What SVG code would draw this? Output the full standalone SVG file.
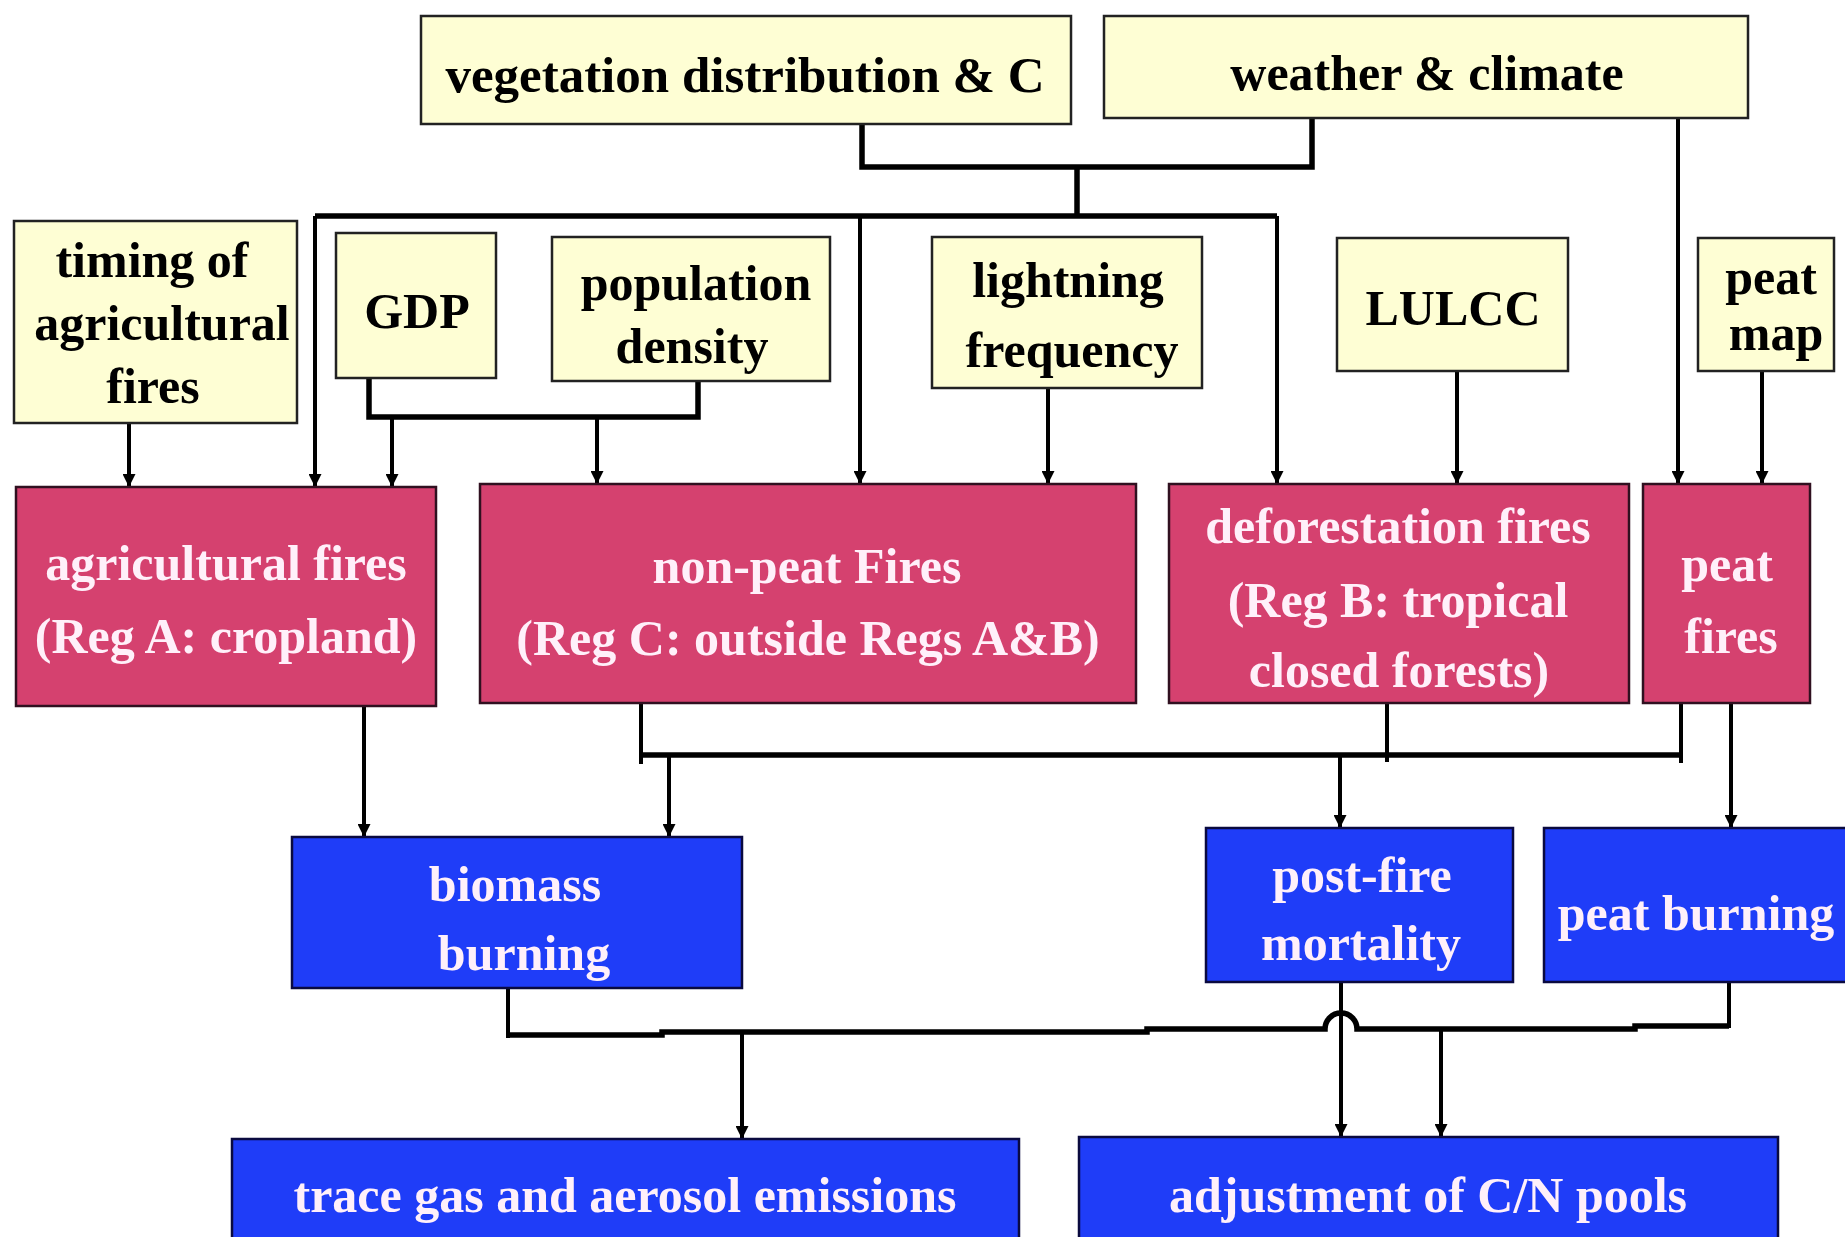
<svg xmlns="http://www.w3.org/2000/svg" width="1845" height="1237" viewBox="0 0 1845 1237">
<style>
.in{fill:#FEFED4;stroke:#222;stroke-width:2.5}
.fire{fill:#D5416F;stroke:#301020;stroke-width:2.5}
.out{fill:#1F3DF8;stroke:#0A0A40;stroke-width:2.5}
text{font-family:"Liberation Serif","Times New Roman",serif;font-weight:bold;font-size:50px;text-anchor:middle}
.dk{fill:#000}
.lt{fill:#FFF0FA}
.c{fill:none;stroke:#000;stroke-width:4}
.b{fill:none;stroke:#000;stroke-width:5.5}
</style>
<defs>
<marker id="ah" viewBox="0 0 10 10" refX="10" refY="5" markerWidth="16" markerHeight="13" markerUnits="userSpaceOnUse" orient="auto">
<path d="M0,0 L10,5 L0,10 z" fill="#000"/>
</marker>
</defs>
<rect width="1845" height="1237" fill="#fff"/>

<g id="connectors">
<path class="b" d="M862,124 V167 H1312 V118"/>
<path class="b" d="M1077,167 V216"/>
<path class="b" d="M315,216 H1277"/>
<path class="c" d="M315,216 V487" marker-end="url(#ah)"/>
<path class="c" d="M860,216 V484" marker-end="url(#ah)"/>
<path class="c" d="M1277,216 V484" marker-end="url(#ah)"/>
<path class="c" d="M1678,118 V484" marker-end="url(#ah)"/>
<path class="c" d="M129,424 V487" marker-end="url(#ah)"/>
<path class="b" d="M369,378 V417 H698 V381"/>
<path class="c" d="M392,417 V487" marker-end="url(#ah)"/>
<path class="c" d="M597,417 V484" marker-end="url(#ah)"/>
<path class="c" d="M1048,388 V484" marker-end="url(#ah)"/>
<path class="c" d="M1457,371 V484" marker-end="url(#ah)"/>
<path class="c" d="M1762,371 V484" marker-end="url(#ah)"/>
<path class="c" d="M364,706 V837" marker-end="url(#ah)"/>
<path class="c" d="M641,703 V764"/>
<path class="c" d="M1387,703 V762"/>
<path class="c" d="M1681,703 V763"/>
<path class="b" d="M641,755 H1681"/>
<path class="c" d="M669,755 V837" marker-end="url(#ah)"/>
<path class="c" d="M1340,755 V828" marker-end="url(#ah)"/>
<path class="c" d="M1731,703 V828" marker-end="url(#ah)"/>
<path class="c" d="M508,988 V1038"/>
<path class="c" d="M1729,982 V1028"/>
<path class="b" d="M508,1035 H662 V1032 H1147 V1029 H1325 A16,16 0 0 1 1357,1029 H1635 V1026 H1729"/>
<path class="c" d="M742,1033 V1139" marker-end="url(#ah)"/>
<path class="c" d="M1341,982 V1137" marker-end="url(#ah)"/>
<path class="c" d="M1441,1029 V1137" marker-end="url(#ah)"/>
</g>

<g id="n-veg"><rect class="in" x="421" y="16" width="650" height="108"/><text class="dk" x="745" y="92" style="font-size:51px">vegetation distribution &amp; C</text></g>
<g id="n-weather"><rect class="in" x="1104" y="16" width="644" height="102"/><text class="dk" x="1427" y="90">weather &amp; climate</text></g>
<g id="n-timing"><rect class="in" x="14" y="221" width="283" height="202"/>
<text class="dk" x="152" y="277">timing of</text><text class="dk" x="162" y="340">agricultural</text><text class="dk" x="153" y="403">fires</text></g>
<g id="n-gdp"><rect class="in" x="336" y="233" width="160" height="145"/><text class="dk" x="417" y="328">GDP</text></g>
<g id="n-pop"><rect class="in" x="552" y="237" width="278" height="144"/><text class="dk" x="696" y="300">population</text><text class="dk" x="692" y="363">density</text></g>
<g id="n-lightning"><rect class="in" x="932" y="237" width="270" height="151"/><text class="dk" x="1068" y="297">lightning</text><text class="dk" x="1072" y="367">frequency</text></g>
<g id="n-lulcc"><rect class="in" x="1337" y="238" width="231" height="133"/><text class="dk" x="1453" y="325">LULCC</text></g>
<g id="n-peatmap"><rect class="in" x="1698" y="238" width="136" height="133"/><text class="dk" x="1771" y="294">peat</text><text class="dk" x="1776" y="350">map</text></g>

<g id="n-agri"><rect class="fire" x="16" y="487" width="420" height="219"/><text class="lt" x="226" y="580">agricultural fires</text><text class="lt" x="226" y="653">(Reg A: cropland)</text></g>
<g id="n-nonpeat"><rect class="fire" x="480" y="484" width="656" height="219"/><text class="lt" x="807" y="583">non-peat Fires</text><text class="lt" x="808" y="655">(Reg C: outside Regs A&amp;B)</text></g>
<g id="n-defor"><rect class="fire" x="1169" y="484" width="460" height="219"/><text class="lt" x="1398" y="543">deforestation fires</text><text class="lt" x="1398" y="617">(Reg B: tropical</text><text class="lt" x="1399" y="687">closed forests)</text></g>
<g id="n-peatfires"><rect class="fire" x="1643" y="484" width="167" height="219"/><text class="lt" x="1727" y="581">peat</text><text class="lt" x="1731" y="653">fires</text></g>

<g id="n-biomass"><rect class="out" x="292" y="837" width="450" height="151"/><text class="lt" x="515" y="901">biomass</text><text class="lt" x="524" y="970">burning</text></g>
<g id="n-postfire"><rect class="out" x="1206" y="828" width="307" height="154"/><text class="lt" x="1362" y="892">post-fire</text><text class="lt" x="1361" y="960">mortality</text></g>
<g id="n-peatburn"><rect class="out" x="1544" y="828" width="310" height="154"/><text class="lt" x="1696" y="930">peat burning</text></g>

<g id="n-trace"><rect class="out" x="232" y="1139" width="787" height="110"/><text class="lt" x="625" y="1212">trace gas and aerosol emissions</text></g>
<g id="n-adjust"><rect class="out" x="1079" y="1137" width="699" height="112"/><text class="lt" x="1428" y="1212">adjustment of C/N pools</text></g>
</svg>
